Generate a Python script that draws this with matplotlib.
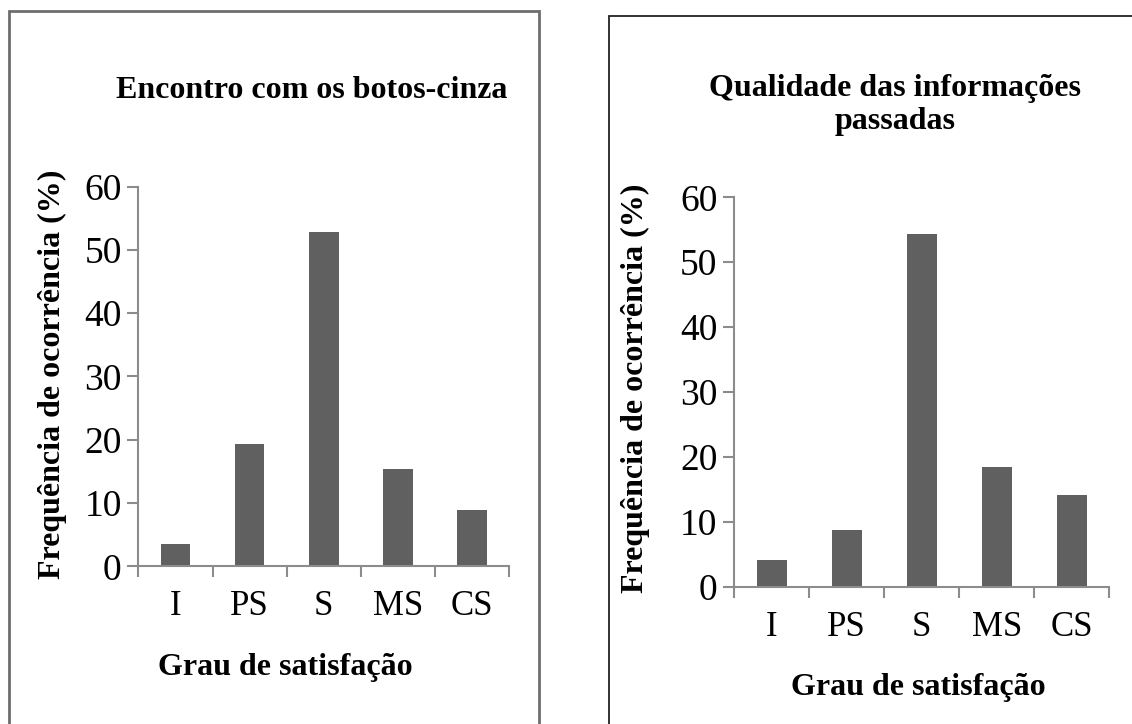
import matplotlib
matplotlib.use("Agg")
import matplotlib.pyplot as plt
from matplotlib.patches import Rectangle

# data
categories = ["I", "PS", "S", "MS", "CS"]
encontro = [3.5, 19.3, 52.8, 15.4, 8.9]
qualidade = [4.1, 8.8, 54.3, 18.4, 14.2]
yticks = [0, 10, 20, 30, 40, 50, 60]

plt.rcParams['font.family'] = ['Liberation Serif', 'DejaVu Serif']

W, H = 1132, 724
fig = plt.figure(figsize=(W / 100, H / 100), dpi=100)

BAR = '#606060'
AXC = '#8c8c8c'


def px(x, y):
    # pixel position (from top-left) to figure fraction
    return x / W, 1 - y / H


def draw_panel(rect, values, title, title_xy, ylab_xy, xlab_xy):
    ax = fig.add_axes(rect)
    ax.bar(range(len(categories)), values, width=0.4, color=BAR)
    ax.set_xlim(-0.5, len(categories) - 0.5)
    ax.set_ylim(0, 60)
    ax.set_yticks(yticks)
    ax.set_yticklabels([str(t) for t in yticks], fontsize=27)
    # category labels in the middle, ticks at the boundaries
    ax.set_xticks(range(len(categories)))
    ax.set_xticklabels(categories, fontsize=25)
    ax.tick_params(axis='x', length=0, pad=17)
    ax.set_xticks([i - 0.5 for i in range(len(categories) + 1)], minor=True)
    ax.tick_params(axis='x', which='minor', length=8, width=1.5, color=AXC, direction='out')
    ax.tick_params(axis='y', length=8, width=1.5, color=AXC, direction='out', pad=4)
    for s in ['top', 'right']:
        ax.spines[s].set_visible(False)
    for s in ['left', 'bottom']:
        ax.spines[s].set_color(AXC)
        ax.spines[s].set_linewidth(1.5)
    fig.text(*px(*title_xy), title, ha='center', va='center', fontsize=23,
             fontweight='bold', linespacing=1.2)
    fig.text(*px(*ylab_xy), 'Frequência de ocorrência (%)', ha='center', va='center',
             rotation=90, fontsize=23, fontweight='bold')
    fig.text(*px(*xlab_xy), 'Grau de satisfação', ha='center', va='center',
             fontsize=23, fontweight='bold')
    return ax


draw_panel([138.3 / W, 1 - 566.3 / H, 371 / W, 379.6 / H], encontro,
           'Encontro com os botos-cinza', (312, 91), (52, 374), (285, 667))
draw_panel([734 / W, 1 - 587 / H, 375.3 / W, 389.7 / H], qualidade,
           'Qualidade das informações\npassadas', (895, 105), (635, 388), (918, 688))

# panel frames
fig.patches.append(Rectangle(px(8.5, 740), 530 / W, 729 / H, transform=fig.transFigure,
                             fill=False, edgecolor='#6e6e6e', linewidth=2))
fig.patches.append(Rectangle(px(609, 740), 540 / W, 724 / H, transform=fig.transFigure,
                             fill=False, edgecolor='#222222', linewidth=1.3))

fig.savefig('out.png', dpi=100)
